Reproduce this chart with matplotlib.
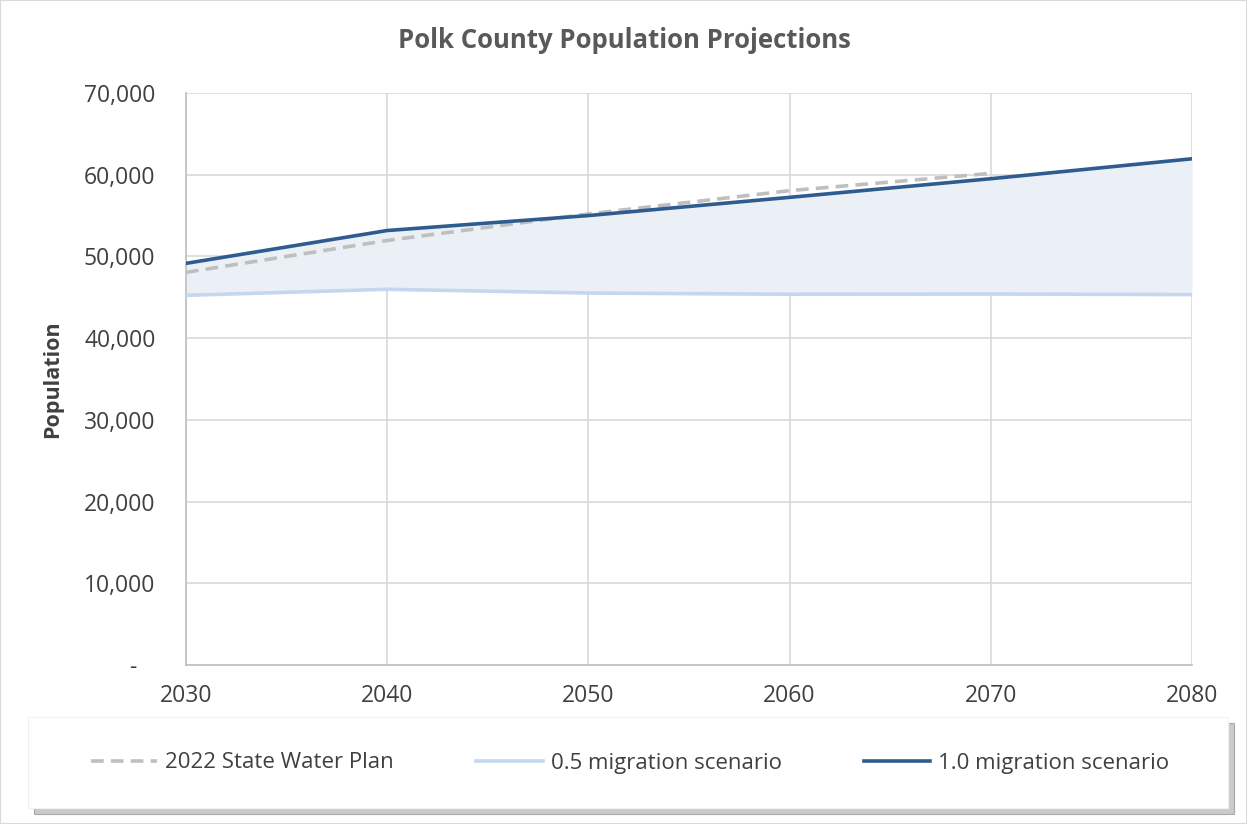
import numpy as np
import matplotlib
matplotlib.use('Agg')
from matplotlib import pyplot as plt
from matplotlib.patches import Rectangle, Shadow
from matplotlib.ticker import FuncFormatter

years = [2030, 2040, 2050, 2060, 2070, 2080]
swp_years = [2030, 2040, 2050, 2060, 2070]
swp_2022 = [48050, 51950, 55200, 58050, 60160]
mig_05 = [45240, 45980, 45520, 45370, 45400, 45330]
mig_10 = [49150, 53170, 55000, 57230, 59510, 61950]

plt.rcParams['font.family'] = ['Open Sans', 'DejaVu Sans']

fig = plt.figure(figsize=(12.47, 8.24), dpi=100)
ax = fig.add_axes([186/1247, 1-665/824, (1192-186)/1247, (665-93)/824])

ax.fill_between(years, mig_05, mig_10, color='#EBF0F7', lw=0, zorder=1)
ax.plot(years, mig_05, color='#C5D7EE', lw=2.6, label='0.5 migration scenario', zorder=3)
ax.plot(swp_years, swp_2022, color='#BFBFBF', lw=2.6, dashes=(3.5, 2), label='2022 State Water Plan', zorder=4)
ax.plot(years, mig_10, color='#2F5C8F', lw=2.6, label='1.0 migration scenario', zorder=5)

ax.set_xlim(2030, 2080)
ax.set_ylim(0, 70000)
ax.set_xticks(years)
ax.set_yticks(range(0, 70001, 10000))
ax.yaxis.set_major_formatter(FuncFormatter(lambda v, p: '-   ' if v == 0 else f'{int(v):,}'))
ax.grid(True, color='#D9D9D9', lw=1.2, zorder=0)
ax.set_axisbelow(True)
for s in ['top', 'right']:
    ax.spines[s].set_visible(False)
for s in ['left', 'bottom']:
    ax.spines[s].set_color('#BFBFBF')
    ax.spines[s].set_linewidth(1.2)
ax.tick_params(length=0, labelsize=16.5, colors='#404040')
ax.tick_params(axis='x', pad=14)
ax.tick_params(axis='y', pad=22)
ax.set_ylabel('Population', fontsize=15.5, fontweight='bold', color='#404040')
ax.yaxis.set_label_coords((63-186)/1006, 0.5)

fig.text(624/1247, 1-41/824, 'Polk County Population Projections', ha='center', va='center',
         fontsize=18.5, fontweight='bold', color='#595959')

# legend box with shadow
box = Rectangle((28/1247, 1-808/824), 1200/1247, 91/824, transform=fig.transFigure,
                facecolor='white', edgecolor='#F2F2F2', lw=0.8, zorder=2)
shadow = Shadow(box, 4/1247, -4/824, facecolor='#7F7F7F', alpha=0.4, zorder=1)
fig.patches.append(shadow)
fig.patches.append(box)

handles, labels = ax.get_legend_handles_labels()
order = [1, 0, 2]
leg = fig.legend([handles[i] for i in order], [labels[i] for i in order], loc='center',
                 bbox_to_anchor=(630/1247, 1-763/824), ncol=3,
                 fontsize=16, frameon=False, handlelength=3.0, handletextpad=0.35,
                 columnspacing=3.7, labelcolor='#404040')
leg.set_zorder(5)

fig.patches.append(Rectangle((0, 0), 1, 1, transform=fig.transFigure, fill=False,
                             edgecolor='#D9D9D9', lw=1.5))

fig.savefig('out.png', dpi=100)
